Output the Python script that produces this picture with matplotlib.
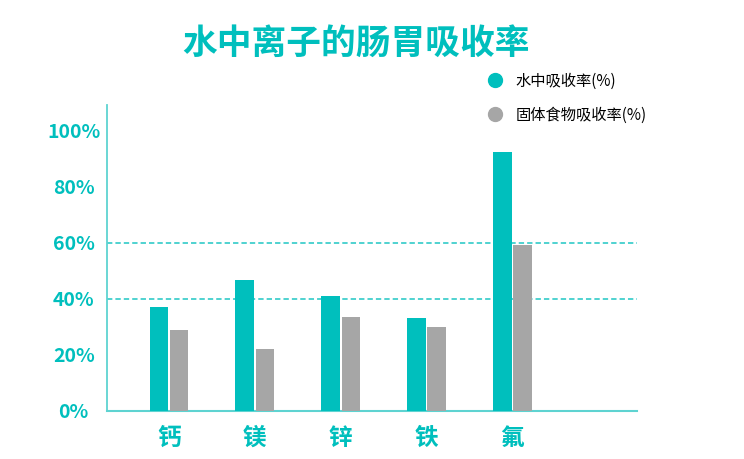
import matplotlib
matplotlib.use("Agg")
import matplotlib.pyplot as plt
from matplotlib.lines import Line2D
import numpy as np

plt.rcParams['font.family'] = ['Noto Sans CJK SC', 'DejaVu Sans']

# data
ions = ['钙', '镁', '锌', '铁', '氟']
water_rate = [37, 46.5, 41, 33, 92.5]
food_rate = [28.8, 22, 33.5, 29.8, 59]
series_names = ['水中吸收率(%)', '固体食物吸收率(%)']
ytick_vals = [0, 20, 40, 60, 80, 100]
ytick_labels = ['0%', '20%', '40%', '60%', '80%', '100%']
grid_vals = [40, 60]

teal = '#00BFBD'
gray = '#A6A6A6'
axis_col = '#5ED3D1'

fig = plt.figure(figsize=(7.44, 4.59), dpi=100)
ax = fig.add_axes([107/744, 1 - 410.5/459, 530/744, 305.5/459])

x = np.arange(len(ions))
w = 0.215
ax.bar(x - w/2 - 0.01, water_rate, width=w, color=teal, zorder=3)
ax.bar(x + w/2 + 0.01, food_rate, width=w, color=gray, zorder=3)

for g in grid_vals:
    ax.axhline(g, color='#1FC6C4', lw=1.1, ls=(0, (3.5, 2)), zorder=1)

ax.set_xlim(-0.72, 5.45)
ax.set_ylim(0, 305.5/2.8)

ax.set_yticks(ytick_vals)
ax.set_yticklabels(ytick_labels, fontsize=14, fontweight='bold', color=teal, ha='center')
ax.tick_params(axis='y', length=0, pad=24)
ax.set_xticks(x)
ax.set_xticklabels(ions, fontsize=17, fontweight='bold', color=teal)
ax.tick_params(axis='x', length=0, pad=11)

for s in ['top', 'right']:
    ax.spines[s].set_visible(False)
ax.spines['left'].set_color(axis_col)
ax.spines['bottom'].set_color(axis_col)
ax.spines['left'].set_linewidth(1.3)
ax.spines['bottom'].set_linewidth(1.5)

fig.text(356/744, 1 - 43/459, '水中离子的肠胃吸收率', fontsize=25, fontweight='bold',
         color=teal, ha='center', va='center')

handles = [Line2D([], [], ls='', marker='o', ms=10, color=c) for c in (teal, gray)]
fig.legend(handles, series_names, loc='upper left', bbox_to_anchor=(478/744, 1 - 65/459),
           frameon=False, fontsize=11, labelspacing=1.1, handletextpad=0.75,
           handlelength=1.2, borderpad=0)

fig.savefig('out.png', dpi=100)
